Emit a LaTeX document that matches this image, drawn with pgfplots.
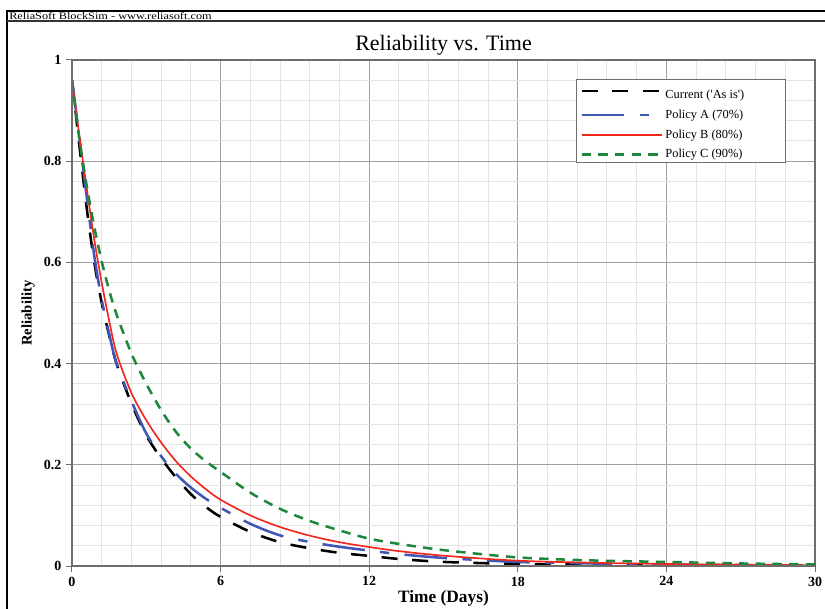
\documentclass[border=0pt]{standalone}
\usepackage{fontspec}
\setmainfont{Liberation Serif}
\usepackage{pgfplots}
\pgfplotsset{compat=1.18}
\definecolor{cblue}{RGB}{62,86,180}
\definecolor{cred}{RGB}{240,40,30}
\definecolor{cgreen}{RGB}{30,135,60}
\definecolor{majgrid}{RGB}{160,160,160}
\definecolor{mingrid}{RGB}{228,228,228}
\definecolor{axgray}{RGB}{110,110,110}
\pgfplotsset{legend image code/.code={\draw[#1] (0pt,0pt) -- (60pt,0pt);}}

\pgfplotstableread{
t R
0 0.96
0.3 0.83
0.6 0.705
0.9 0.60
1.2 0.52
1.5 0.456
1.8 0.40
2.4 0.321
3.0 0.258
3.6 0.213
4.2 0.175
4.8 0.142
5.4 0.117
6.0 0.097
7.2 0.0675
8.4 0.047
9.6 0.035
10.8 0.026
12 0.020
13.2 0.0139
15 0.0081
18 0.004
21 0.0028
24 0.002
27 0.0014
30 0.001
}\current
\pgfplotstableread{
t R
0 0.96
0.3 0.846
0.6 0.727
0.9 0.613
1.2 0.526
1.5 0.459
1.8 0.40
2.4 0.326
3.0 0.262
3.6 0.217
4.2 0.182
4.8 0.155
5.4 0.133
6.0 0.115
7.2 0.0834
8.4 0.0605
9.6 0.0475
10.8 0.038
12 0.0305
13.2 0.0235
15 0.016
18 0.008
21 0.005
24 0.003
27 0.002
30 0.001
}\polA
\pgfplotstableread{
t R
0 0.96
0.3 0.85
0.6 0.745
0.9 0.645
1.2 0.56
1.5 0.485
1.8 0.42
2.4 0.342
3.0 0.288
3.6 0.244
4.2 0.207
4.8 0.177
5.4 0.152
6.0 0.131
7.2 0.100
8.4 0.077
9.6 0.060
10.8 0.047
12 0.0375
13.2 0.0294
15 0.0204
18 0.0105
21 0.0065
24 0.004
27 0.0025
30 0.0015
}\polB
\pgfplotstableread{
t R
0 0.96
0.3 0.843
0.6 0.75
0.9 0.67
1.2 0.602
1.5 0.545
1.8 0.497
2.4 0.42
3.0 0.36
3.6 0.308
4.2 0.265
4.8 0.232
5.4 0.207
6.0 0.186
7.2 0.145
8.4 0.113
9.6 0.089
10.8 0.0704
12 0.054
13.2 0.0437
15 0.0314
18 0.017
21 0.011
24 0.008
27 0.005
30 0.003
}\polC

\begin{document}
\begin{tikzpicture}
\begin{axis}[name=ax, scale only axis, width=557.25pt, height=379.5pt,
 xmin=0, xmax=30, ymin=0, ymax=1,
 xtick={0,6,12,18,24,30}, ytick={0,0.2,0.4,0.6,0.8,1},
 minor x tick num=4, minor y tick num=4,
 grid=both,
 major grid style={draw=majgrid, line width=0.75pt},
 minor grid style={draw=mingrid, line width=0.75pt},
 axis line style={draw=axgray, line width=0.9pt},
 tick align=outside, xtick pos=bottom, ytick pos=left,
 major tick length=4.5pt, minor tick length=0pt,
 tick style={draw=axgray, line width=0.75pt},
 tick label style={font=\bfseries\fontsize{10.5}{12}\selectfont},
 /pgf/number format/assume math mode=true,
 title={Reliability vs. Time},
 title style={font=\fontsize{16.5}{19}\selectfont, at={(axis description cs:0.5,1)}, anchor=base, yshift=0.8pt},
 xlabel={Time (Days)},
 xlabel style={font=\bfseries\fontsize{13}{15}\selectfont, at={(axis description cs:0.5,0)}, anchor=base, yshift=-27pt},
 ylabel={Reliability},
 ylabel style={font=\bfseries\fontsize{11}{13}\selectfont, at={(axis description cs:-0.0592,0.5)}, anchor=center},
 legend cell align=left,
 legend style={at={(axis description cs:0.678,0.9625)}, anchor=north west, draw=axgray, line width=0.75pt, fill=white, font=\fontsize{9.3}{11}\selectfont, row sep=3pt, inner ysep=0pt},
]
\addplot[black, line width=1.9pt, dash pattern=on 12pt off 11pt, smooth] table[x=t,y=R] {\current};
\addlegendentry{\rule{0pt}{12pt}Current (\textquotesingle As is\textquotesingle)\hspace*{26pt}}
\addplot[cblue, line width=1.9pt, dash pattern=on 32pt off 11.5pt on 7pt off 11.5pt, smooth] table[x=t,y=R] {\polA};
\addlegendentry{Policy A (70\%)}
\addplot[cred, line width=1.25pt, smooth] table[x=t,y=R] {\polB};
\addlegendentry{Policy B (80\%)}
\addplot[cgreen, line width=1.9pt, dash pattern=on 7pt off 5.5pt, smooth] table[x=t,y=R] {\polC};
\addlegendentry{Policy C (90\%)}
\end{axis}
\draw[axgray, line width=1.6pt] (ax.north west) -- (ax.south west) -- (ax.south east);
\draw[black, line width=1.5pt] ([xshift=-48.75pt, yshift=-40pt]ax.south west) -- ([xshift=-48.75pt, yshift=36.75pt]ax.north west) -- ([xshift=12pt, yshift=36.75pt]ax.north east);
\draw[black!80, line width=0.9pt] ([xshift=-48.75pt, yshift=29.25pt]ax.north west) -- ([xshift=12pt, yshift=29.25pt]ax.north east);
\node[anchor=base west, inner sep=0pt, font=\fontsize{7.5}{9}\selectfont] at ([xshift=-47.25pt, yshift=30.4pt]ax.north west) {\scalebox{1.23}[1]{ReliaSoft BlockSim - www.reliasoft.com}};
\pgfresetboundingbox
\path[use as bounding box] ([xshift=-54pt, yshift=-31.5pt]ax.south west) rectangle ([xshift=7.5pt, yshift=45pt]ax.north east);
\end{tikzpicture}
\end{document}
